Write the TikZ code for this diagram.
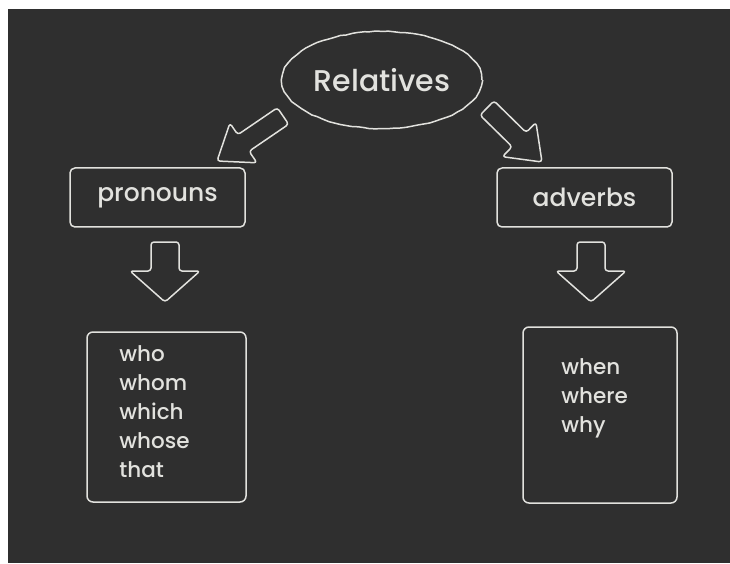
\documentclass[tikz,border=0pt]{standalone}
\usepackage{fontspec}
\setmainfont{Poppins}[UprightFont=* Medium]
\usetikzlibrary{calc,shapes.geometric,decorations.pathmorphing}

\definecolor{board}{RGB}{47,47,47}
\definecolor{chalk}{RGB}{226,226,222}

% block arrow: tail, tip, shaft half width, head half width, head length
\newcommand{\chalkarrow}[5]{%
  \coordinate (neck) at ($(#2)!#5!(#1)$);
  \draw[chalkarr]
    ($(#1)!#3!90:(#2)$) -- ($(neck)!#3!90:(#2)$) -- ($(neck)!#4!90:(#2)$)
    -- (#2) -- ($(neck)!#4!-90:(#2)$) -- ($(neck)!#3!-90:(#2)$)
    -- ($(#1)!#3!-90:(#2)$) -- cycle;
}

\tikzset{
  chalkline/.style={draw=chalk, line width=1.5pt, line join=round},
  chalkarr/.style={draw=chalk, line width=1.5pt, line join=round, rounded corners=3pt},
  topic/.style={chalkline, ellipse, inner sep=0pt, text=chalk,
    decorate, decoration={random steps, segment length=6pt, amplitude=0.5pt},
    minimum width=200pt, minimum height=97pt, font=\fontsize{30}{34}\selectfont},
  kind/.style={chalkline, rounded corners=5pt, inner sep=0pt, text=chalk,
    minimum width=175pt, minimum height=59pt, font=\fontsize{25}{30}\selectfont},
  listbox/.style={chalkline, rounded corners=6pt, inner sep=0pt},
  words/.style={anchor=north west, inner sep=0pt, align=left, text=chalk,
    font=\fontsize{21.5}{29}\selectfont}
}

\begin{document}
\begin{tikzpicture}[x=1pt,y=1pt]
  \useasboundingbox (0,0) rectangle (730,563);
  \fill[board] (8,0) rectangle (730,554);

  \node[topic] (rel) at (382,483) {Relatives};

  \node[kind] (pro) at (157.5,365.5) {pronouns};
  \node[kind] (adv) at (584.5,365.5) {adverbs};

  \node[listbox, minimum width=159pt, minimum height=170pt] (prolist) at (166.5,146) {};
  \node[listbox, minimum width=154pt, minimum height=176pt] (advlist) at (600,148) {};

  \node[words] (prowords) at ($(prolist.north west)+(33,-14)$) {who\\whom\\which\\whose\\that};
  \node[words] (advwords) at ($(advlist.north west)+(39,-32)$) {when\\where\\why};

  % arrows between the levels
  \coordinate (rel-l) at (283,447);
  \coordinate (pro-in) at (217,402);
  \coordinate (rel-r) at (487,455);
  \coordinate (adv-in) at (542,401);
  \coordinate (pro-out) at (165,321);
  \coordinate (prolist-in) at (165,261);
  \coordinate (adv-out) at (591,321);
  \coordinate (advlist-in) at (591,261);

  \chalkarrow{rel-l}{pro-in}{10pt}{24pt}{32pt}
  \chalkarrow{rel-r}{adv-in}{10pt}{24pt}{32pt}
  \chalkarrow{pro-out}{prolist-in}{14pt}{35pt}{31pt}
  \chalkarrow{adv-out}{advlist-in}{14pt}{35pt}{31pt}
\end{tikzpicture}
\end{document}
